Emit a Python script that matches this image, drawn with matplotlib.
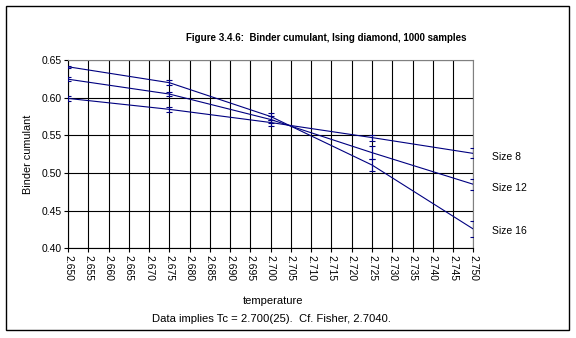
import matplotlib
matplotlib.use("Agg")
import matplotlib.pyplot as plt
from matplotlib.patches import Rectangle
import numpy as np

plt.rcParams['font.family'] = ['Liberation Sans', 'DejaVu Sans']

# Binder cumulant vs temperature for three lattice sizes
temps = [2.650, 2.675, 2.700, 2.725, 2.750]
size8 = [0.599, 0.5845, 0.567, 0.547, 0.526]
err8 = [0.003, 0.003, 0.004, 0.004, 0.0067]
size12 = [0.6245, 0.6048, 0.571, 0.527, 0.485]
err12 = [0.003, 0.003, 0.004, 0.009, 0.0074]
size16 = [0.641, 0.6199, 0.575, 0.5106, 0.4256]
err16 = [0.0012, 0.003, 0.005, 0.008, 0.011]

series_labels = ["Size 8", "Size 12", "Size 16"]
xticks = np.round(np.arange(2.650, 2.7501, 0.005), 3)
yticks = [0.40, 0.45, 0.50, 0.55, 0.60, 0.65]

W, H = 576, 338
fig = plt.figure(figsize=(W / 100, H / 100), dpi=100)
ax = fig.add_axes([68 / W, 1 - 248.3 / H, (473.3 - 68) / W, (248.3 - 60) / H])

navy = "#000080"
for vals, errs in [(size8, err8), (size12, err12), (size16, err16)]:
    ax.errorbar(temps, vals, yerr=errs, color=navy, lw=0.8, elinewidth=0.8,
                capsize=2.3, capthick=0.8, zorder=3)

ax.set_xlim(2.650, 2.750)
ax.set_ylim(0.40, 0.65)
ax.set_xticks(xticks)
ax.set_xticklabels([f"{t:.3f}" for t in xticks], rotation=-90, fontsize=7.5)
ax.set_yticks(yticks)
ax.set_yticklabels([f"{v:.2f}" for v in yticks], fontsize=7.5)
ax.grid(True, color="black", lw=0.8)
ax.set_axisbelow(True)
ax.tick_params(length=3, width=0.8, pad=1.5, color="black")

for s in ["top", "right"]:
    ax.spines[s].set_color("#808080")
    ax.spines[s].set_linewidth(0.8)
for s in ["left", "bottom"]:
    ax.spines[s].set_color("black")
    ax.spines[s].set_linewidth(0.8)

ax.set_ylabel("Binder cumulant", fontsize=7.8, labelpad=6)

# Series labels at the right end
label_y = [156.7, 187.7, 230.5]
for lab, yp in zip(series_labels, label_y):
    fig.text(492 / W, 1 - yp / H, lab, fontsize=7.5, va="center", ha="left")

fig.text(326 / W, 1 - 38 / H, "Figure 3.4.6:  Binder cumulant, Ising diamond, 1000 samples",
         fontsize=7.0, fontweight="bold", ha="center", va="center")
fig.text(273 / W, 1 - 301 / H, "temperature", fontsize=8, ha="center", va="center")
fig.text(271 / W, 1 - 319 / H, "Data implies Tc = 2.700(25).  Cf. Fisher, 2.7040.",
         fontsize=8.1, ha="center", va="center")

fig.add_artist(Rectangle((5.5 / W, 1 - 330 / H), (569 - 5.5) / W, (330 - 5.5) / H,
                         transform=fig.transFigure, fill=False, edgecolor="black", lw=1))

fig.savefig("out.png", dpi=100, facecolor="white")
